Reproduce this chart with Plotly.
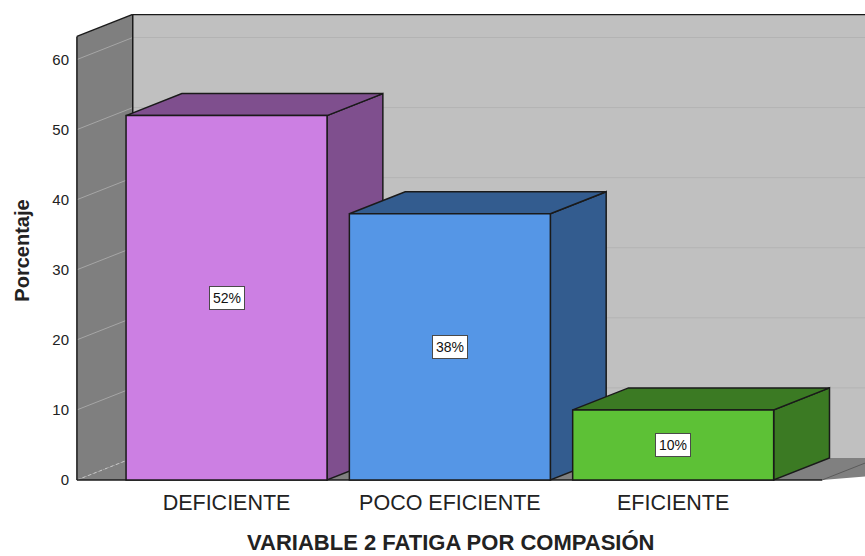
import plotly.graph_objects as go

# Data
categories = ["DEFICIENTE", "POCO EFICIENTE", "EFICIENTE"]
percentages = [52, 38, 10]
value_labels = ["52%", "38%", "10%"]
y_ticks = [0, 10, 20, 30, 40, 50, 60]
x_title = "VARIABLE 2 FATIGA POR COMPASIÓN"
y_title = "Porcentaje"

front_colors = ["#CC7FE3", "#5596E6", "#5DC136"]
shade_colors = ["#7F4F8E", "#335C8F", "#3B7A23"]

# Pseudo-3D geometry (in axis units)
BAR_W = 0.9
DX = 0.25          # depth offset along x
DY = 3.14          # depth offset along y
WALL_X = -0.67     # front edge of the left wall
WALL_TOP = 63.3    # height of the walls at the front
FLOOR_END = 2.667  # right end of the floor front edge
X_RANGE = [-0.701, 2.859]
Y_RANGE = [-1, 66.5]

EDGE = "#1a1a1a"
FONT = "Liberation Sans, Arial, sans-serif"


def poly(points):
    return "M " + " L ".join(f"{x},{y}" for x, y in points) + " Z"


shapes = []

# back wall
shapes.append(dict(type="rect", xref="x", yref="y",
                   x0=WALL_X + DX, x1=X_RANGE[1] + 1, y0=DY, y1=WALL_TOP + DY,
                   fillcolor="#C0C0C0", line=dict(width=0), layer="below"))
# left wall
shapes.append(dict(type="path", xref="x", yref="y",
                   path=poly([(WALL_X, 0), (WALL_X, WALL_TOP),
                              (WALL_X + DX, WALL_TOP + DY), (WALL_X + DX, DY)]),
                   fillcolor="#7F7F7F", line=dict(width=0), layer="below"))
# floor
shapes.append(dict(type="path", xref="x", yref="y",
                   path=poly([(WALL_X, 0), (WALL_X + DX, DY),
                              (FLOOR_END + DX + 1, DY), (FLOOR_END, 0)]),
                   fillcolor="#808080", line=dict(width=0), layer="below"))

# gridlines on left wall and back wall
for v in y_ticks[1:]:
    shapes.append(dict(type="line", xref="x", yref="y",
                       x0=WALL_X, y0=v, x1=WALL_X + DX, y1=v + DY,
                       line=dict(color="#A6A6A6", width=1), layer="below"))
    shapes.append(dict(type="line", xref="x", yref="y",
                       x0=WALL_X + DX, y0=v + DY, x1=X_RANGE[1] + 1, y1=v + DY,
                       line=dict(color="#B3B3B3", width=1), layer="below"))

# dotted floor edge along the left wall
shapes.append(dict(type="line", xref="x", yref="y",
                   x0=WALL_X, y0=0, x1=WALL_X + DX, y1=DY,
                   line=dict(color="#C8C8C8", width=1, dash="dot"), layer="below"))

# wall outlines
for (x0, y0, x1, y1) in [
    (WALL_X, 0, WALL_X, WALL_TOP),
    (WALL_X, WALL_TOP, WALL_X + DX, WALL_TOP + DY),
    (WALL_X + DX, WALL_TOP + DY, X_RANGE[1] + 1, WALL_TOP + DY),
    (WALL_X + DX, DY, WALL_X + DX, WALL_TOP + DY),
    (WALL_X, 0, FLOOR_END, 0),
]:
    shapes.append(dict(type="line", xref="x", yref="y",
                       x0=x0, y0=y0, x1=x1, y1=y1,
                       line=dict(color=EDGE, width=1.5), layer="below"))
# floor right edge
shapes.append(dict(type="line", xref="x", yref="y",
                   x0=FLOOR_END, y0=0, x1=FLOOR_END + DX, y1=DY,
                   line=dict(color="#5a5a5a", width=1), layer="below"))

# top and side faces of each bar
half = BAR_W / 2
for i, v in enumerate(percentages):
    left, right = i - half, i + half
    shapes.append(dict(type="path", xref="x", yref="y",
                       path=poly([(right, 0), (right, v), (right + DX, v + DY), (right + DX, DY)]),
                       fillcolor=shade_colors[i], line=dict(color=EDGE, width=1.5),
                       layer="below"))
    shapes.append(dict(type="path", xref="x", yref="y",
                       path=poly([(left, v), (left + DX, v + DY), (right + DX, v + DY), (right, v)]),
                       fillcolor=shade_colors[i], line=dict(color=EDGE, width=1.5),
                       layer="below"))

fig = go.Figure()
fig.add_trace(go.Bar(
    x=list(range(len(categories))), y=percentages, width=BAR_W,
    marker=dict(color=front_colors, line=dict(color=EDGE, width=1.5)),
    hoverinfo="skip", showlegend=False,
))

annotations = [
    dict(x=i, y=v / 2, xref="x", yref="y", text=value_labels[i], showarrow=False,
         bgcolor="white", bordercolor="#4a4a4a", borderwidth=1, borderpad=3,
         font=dict(family=FONT, size=14, color="#111111"))
    for i, v in enumerate(percentages)
]
# category axis title, centred under the chart body
annotations.append(dict(
    text=f"<b>{x_title}</b>", xref="paper", yref="paper", x=0.478, y=-0.118,
    xanchor="center", yanchor="middle", showarrow=False, borderpad=0,
    font=dict(family=FONT, size=22, color="#222222"),
))

fig.update_layout(
    width=865, height=556,
    margin=dict(l=70, r=0, t=14, b=69),
    paper_bgcolor="white", plot_bgcolor="white",
    font=dict(family=FONT, color="#222222"),
    shapes=shapes,
    annotations=annotations,
    xaxis=dict(
        range=X_RANGE, tickvals=list(range(len(categories))), ticktext=categories,
        tickfont=dict(size=21.5, color="#222222"),
        showgrid=False, zeroline=False, showline=False, ticks="",
    ),
    yaxis=dict(
        range=Y_RANGE, tickvals=y_ticks,
        tickfont=dict(size=15, color="#222222"),
        showgrid=False, zeroline=False, showline=False, ticks="",
        title=dict(text=f"<b>{y_title}</b>", font=dict(size=20, color="#222222"),
                   standoff=17),
    ),
)

fig.write_html("out.html")
